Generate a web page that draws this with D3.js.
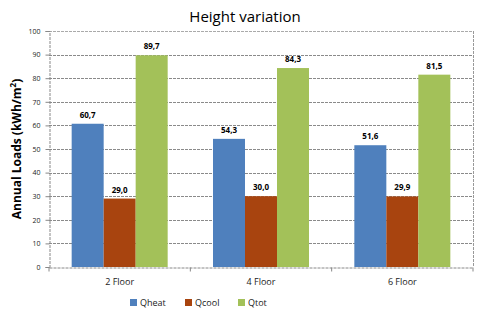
<!DOCTYPE html>
<html>
<head>
<meta charset="utf-8">
<script src="https://cdn.jsdelivr.net/npm/d3@7"></script>
<style>
  body { margin: 0; background: #fff; }
  text { font-family: "Open Sans", "DejaVu Sans", sans-serif; }
</style>
</head>
<body>
<svg width="484" height="317"></svg>
<script>
var floors = ["2 Floor", "4 Floor", "6 Floor"];
var seriesNames = ["Qheat", "Qcool", "Qtot"];
var qheat = [60.7, 54.3, 51.6];
var qcool = [29.0, 30.0, 29.9];
var qtot = [89.7, 84.3, 81.5];
var yTicks = [0, 10, 20, 30, 40, 50, 60, 70, 80, 90, 100];

var colors = {"Qheat": "#4f80bd", "Qcool": "#a8440f", "Qtot": "#a3c159"};
var values = {"Qheat": qheat, "Qcool": qcool, "Qtot": qtot};

var svg = d3.select("svg"),
    margin = {top: 31, right: 11, bottom: 50, left: 49},
    width = 484 - margin.left - margin.right,
    height = 317 - margin.top - margin.bottom,
    g = svg.append("g").attr("transform", "translate(" + margin.left + "," + margin.top + ")");

var x = d3.scaleBand().domain(floors).range([0, width]);
var x1 = d3.scaleBand().domain(seriesNames).range([0, 96]);
var y = d3.scaleLinear().domain([0, 100]).range([height, 0]);

// gridlines
g.selectAll(".grid")
  .data(yTicks.slice(1))
  .enter().append("line")
    .attr("x1", 0).attr("x2", width)
    .attr("y1", function(d) { return Math.round(y(d)) + 0.5; })
    .attr("y2", function(d) { return Math.round(y(d)) + 0.5; })
    .attr("stroke", function(d) { return d === 100 ? "#aaa" : "#8a8a8a"; })
    .attr("stroke-dasharray", "3,1");

// plot frame right side
g.append("line")
  .attr("x1", width + 0.5).attr("x2", width + 0.5)
  .attr("y1", 0).attr("y2", height)
  .attr("stroke", "#999").attr("stroke-dasharray", "3,1");

// bars
var groups = g.selectAll(".grp")
  .data(floors)
  .enter().append("g")
    .attr("transform", function(d) { return "translate(" + (x(d) + (x.bandwidth() - 96) / 2) + ",0)"; });

seriesNames.forEach(function(s) {
  groups.append("rect")
    .attr("x", x1(s))
    .attr("width", x1.bandwidth())
    .attr("y", function(d, i) { return y(values[s][i]); })
    .attr("height", function(d, i) { return height - y(values[s][i]); })
    .attr("fill", colors[s]);
  groups.append("text")
    .attr("x", x1(s) + x1.bandwidth() / 2)
    .attr("y", function(d, i) { return y(values[s][i]) - 6; })
    .attr("text-anchor", "middle")
    .style("font-size", "8px")
    .style("font-weight", "bold")
    .text(function(d, i) { return values[s][i].toFixed(1).replace(".", ","); });
});

// y axis
var yAxis = g.append("g")
  .attr("transform", "translate(0.5,0)")
  .call(d3.axisLeft(y).tickValues(yTicks).tickSize(4).tickPadding(5));
yAxis.select(".domain").attr("stroke", "#888").attr("stroke-dasharray", "3,1");
yAxis.selectAll(".tick line").attr("stroke", "#888");
yAxis.selectAll("text").style("font-size", "7px").attr("fill", "#222");

// x axis
var xAxis = g.append("g")
  .attr("transform", "translate(0," + (height + 0.5) + ")")
  .call(d3.axisBottom(x).tickSize(0).tickPadding(11));
xAxis.select(".domain").attr("stroke", "#888").attr("stroke-dasharray", "3,1");
xAxis.selectAll("text").style("font-size", "9px").attr("fill", "#222");
xAxis.selectAll(".sep")
  .data([0, width / 3, 2 * width / 3, width])
  .enter().append("line")
    .attr("x1", function(d) { return d; }).attr("x2", function(d) { return d; })
    .attr("y1", 0).attr("y2", 4)
    .attr("stroke", "#888");

// title
svg.append("text")
  .attr("x", 245).attr("y", 22)
  .attr("text-anchor", "middle")
  .style("font-size", "15px")
  .text("Height variation");

// y label
svg.append("text")
  .attr("transform", "translate(21,149) rotate(-90)")
  .attr("text-anchor", "middle")
  .style("font-size", "12px")
  .style("font-weight", "bold")
  .html("Annual Loads (kWh/m<tspan dy='-5' font-size='8px'>2</tspan><tspan dy='5'>)</tspan>");

// legend
var legend = svg.append("g").attr("transform", "translate(130,299)");
var lx = [0, 55, 108];
seriesNames.forEach(function(s, i) {
  legend.append("rect")
    .attr("x", lx[i]).attr("y", 0)
    .attr("width", 7).attr("height", 7)
    .attr("fill", colors[s]);
  legend.append("text")
    .attr("x", lx[i] + 10).attr("y", 7)
    .style("font-size", "9px")
    .attr("fill", "#222")
    .text(s);
});
</script>
</body>
</html>
